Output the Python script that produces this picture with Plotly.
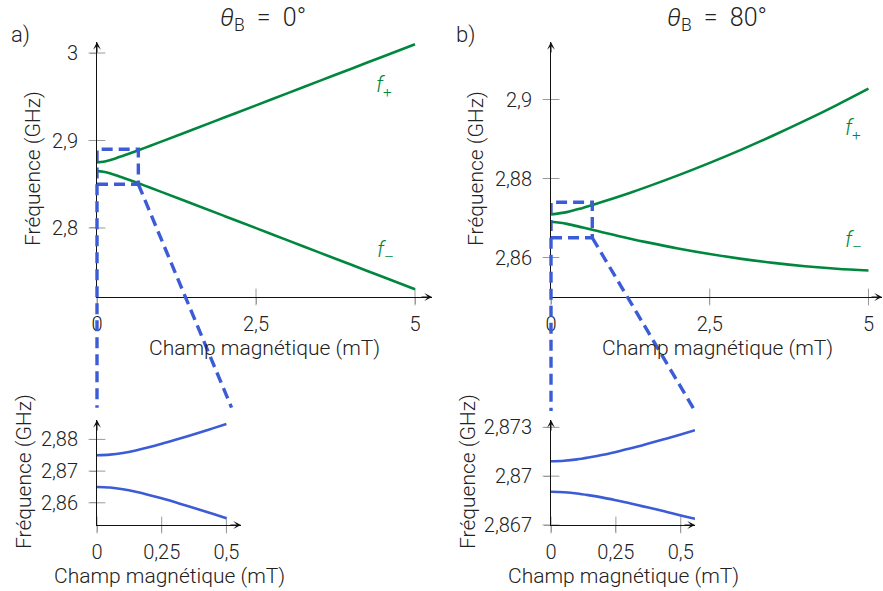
import plotly.graph_objects as go

# ---------------- data ----------------
# theta_B = 0 deg : full range
B_main_a = [0, 0.1, 0.2, 0.3, 0.4, 0.5, 0.75, 1, 1.5, 2, 2.5, 3, 3.5, 4, 4.5, 5]
fplus_main_a = [2.875, 2.87573, 2.87751, 2.87978, 2.88227, 2.88487, 2.89159, 2.89844,
                2.9123, 2.92622, 2.94018, 2.95415, 2.96813, 2.98211, 2.9961, 3.01009]
fminus_main_a = [2.865, 2.86427, 2.86249, 2.86022, 2.85773, 2.85513, 2.84841, 2.84156,
                 2.8277, 2.81378, 2.79982, 2.78585, 2.77187, 2.75789, 2.7439, 2.72991]

# theta_B = 0 deg : low-field detail
B_zoom_a = [0, 0.05, 0.1, 0.15, 0.2, 0.25, 0.3, 0.35, 0.4, 0.45, 0.5]
fplus_zoom_a = [2.875, 2.87519, 2.87573, 2.87653, 2.87751, 2.8786, 2.87978, 2.881,
                2.88227, 2.88356, 2.88487]
fminus_zoom_a = [2.865, 2.86481, 2.86427, 2.86347, 2.86249, 2.8614, 2.86022, 2.859,
                 2.85773, 2.85644, 2.85513]

# theta_B = 80 deg : full range
B_main_b = [0, 0.25, 0.5, 0.75, 1, 1.25, 1.5, 2, 2.5, 3, 3.5, 4, 4.5, 5]
fplus_main_b = [2.87092, 2.87149, 2.87256, 2.87378, 2.87507, 2.87642, 2.87782, 2.88079,
                2.88396, 2.88732, 2.89089, 2.89464, 2.8986, 2.90275]
fminus_main_b = [2.86904, 2.86852, 2.86759, 2.86662, 2.86568, 2.86476, 2.86389, 2.86229,
                 2.86088, 2.85966, 2.85863, 2.8578, 2.85716, 2.85671]

# theta_B = 80 deg : low-field detail
B_zoom_b = [0, 0.05, 0.1, 0.15, 0.2, 0.25, 0.3, 0.35, 0.4, 0.45, 0.5, 0.555]
fplus_zoom_b = [2.87092, 2.87095, 2.87103, 2.87116, 2.87131, 2.87149, 2.87168, 2.87189,
                2.87211, 2.87233, 2.87256, 2.87282]
fminus_zoom_b = [2.86904, 2.86901, 2.86894, 2.86882, 2.86868, 2.86852, 2.86835, 2.86816,
                 2.86798, 2.86779, 2.86759, 2.86738]

# tick values and labels (decimal comma)
main_xticks = [0, 2.5, 5]
main_xlabels = ["0", "2,5", "5"]
zoom_xticks = [0, 0.25, 0.5]
zoom_xlabels = ["0", "0,25", "0,5"]
main_a_yticks = [2.8, 2.9, 3.0]
main_a_ylabels = ["2,8", "2,9", "3"]
zoom_a_yticks = [2.86, 2.87, 2.88]
zoom_a_ylabels = ["2,86", "2,87", "2,88"]
main_b_yticks = [2.86, 2.88, 2.9]
main_b_ylabels = ["2,86", "2,88", "2,9"]
zoom_b_yticks = [2.867, 2.87, 2.873]
zoom_b_ylabels = ["2,867", "2,87", "2,873"]

# zoom windows (x0, x1, y0, y1) in the full-range axes, and where the
# connector lines meet the detail axes (x_right, y_top)
window_a = (0, 0.65, 2.85, 2.89)
window_b = (0, 0.65, 2.865, 2.874)
link_a = (0.52, 2.89)
link_b = (0.555, 2.874)

# ---------------- styling ----------------
W, H = 883, 591
GREEN = "#00873d"
BLUE = "#3b5cd6"
TEXT = "#222222"
TICK = "#9a9a9a"
FONT = "Roboto"
WEIGHT = 300

# panel boxes in pixels: (left, top, right, bottom), axis ranges
panels = {
    "main_a": dict(xa="x", ya="y", box=(97, 42, 432, 297),
                   xr=[0, 5.267], yr=[2.7211, 3.0126],
                   xt=(main_xticks, main_xlabels), yt=(main_a_yticks, main_a_ylabels)),
    "main_b": dict(xa="x2", ya="y2", box=(551, 42, 882, 297),
                   xr=[0, 5.213], yr=[2.85, 2.91456],
                   xt=(main_xticks, main_xlabels), yt=(main_b_yticks, main_b_ylabels)),
    "zoom_a": dict(xa="x3", ya="y3", box=(97, 420, 241, 525),
                   xr=[0, 0.5564], yr=[2.853, 2.88612],
                   xt=(zoom_xticks, zoom_xlabels), yt=(zoom_a_yticks, zoom_a_ylabels)),
    "zoom_b": dict(xa="x4", ya="y4", box=(551, 420, 695, 525),
                   xr=[0, 0.5549], yr=[2.867, 2.87345],
                   xt=(zoom_xticks, zoom_xlabels), yt=(zoom_b_yticks, zoom_b_ylabels)),
}


def paper(px, py):
    return px / W, 1 - py / H


def data_to_paper(p, x, y):
    l, t, r, b = p["box"]
    fx = (x - p["xr"][0]) / (p["xr"][1] - p["xr"][0])
    fy = (y - p["yr"][0]) / (p["yr"][1] - p["yr"][0])
    return paper(l + fx * (r - l), b - fy * (b - t))


def font(size, color=TEXT):
    return dict(family=FONT, size=size, color=color, weight=WEIGHT)


fig = go.Figure()

curves = [
    ("main_a", B_main_a, fplus_main_a, GREEN), ("main_a", B_main_a, fminus_main_a, GREEN),
    ("main_b", B_main_b, fplus_main_b, GREEN), ("main_b", B_main_b, fminus_main_b, GREEN),
    ("zoom_a", B_zoom_a, fplus_zoom_a, BLUE), ("zoom_a", B_zoom_a, fminus_zoom_a, BLUE),
    ("zoom_b", B_zoom_b, fplus_zoom_b, BLUE), ("zoom_b", B_zoom_b, fminus_zoom_b, BLUE),
]

# tick marks crossing the axis lines
for name, p in panels.items():
    xv = p["xt"][0]
    yv = p["yt"][0]
    fig.add_trace(go.Scatter(x=xv, y=[p["yr"][0]] * len(xv), mode="markers",
                             marker=dict(symbol="line-ns", size=12,
                                         line=dict(color=TICK, width=1)),
                             xaxis=p["xa"], yaxis=p["ya"], cliponaxis=False,
                             hoverinfo="skip", showlegend=False))
    fig.add_trace(go.Scatter(x=[p["xr"][0]] * len(yv), y=yv, mode="markers",
                             marker=dict(symbol="line-ew", size=12,
                                         line=dict(color=TICK, width=1)),
                             xaxis=p["xa"], yaxis=p["ya"], cliponaxis=False,
                             hoverinfo="skip", showlegend=False))

for name, xs, ys, col in curves:
    p = panels[name]
    fig.add_trace(go.Scatter(x=xs, y=ys, mode="lines", line=dict(color=col, width=2.6,
                                                                shape="spline"),
                             xaxis=p["xa"], yaxis=p["ya"], showlegend=False))

layout = dict(
    width=W, height=H, margin=dict(l=0, r=0, t=0, b=0, autoexpand=False),
    paper_bgcolor="white", plot_bgcolor="white", showlegend=False,
    font=font(20),
)

for name, p in panels.items():
    l, t, r, b = p["box"]
    xkey = "xaxis" + p["xa"][1:]
    ykey = "yaxis" + p["ya"][1:]
    common = dict(showline=True, linecolor="#111111", linewidth=1, showgrid=False,
                  zeroline=False, ticks="outside", ticklen=6, tickcolor=TICK,
                  tickfont=font(20), fixedrange=True, automargin=False)
    layout[xkey] = dict(common, domain=[l / W, r / W], range=p["xr"], anchor=p["ya"],
                        tickvals=p["xt"][0], ticktext=p["xt"][1], ticklabelstandoff=3)
    layout[ykey] = dict(common, domain=[1 - b / H, 1 - t / H], range=p["yr"], anchor=p["xa"],
                        tickvals=p["yt"][0], ticktext=p["yt"][1], ticklabelstandoff=8)

fig.update_layout(**layout)

annotations = []
# axis arrowheads
for name, p in panels.items():
    for (x, y, ax, ay) in [(p["xr"][1], p["yr"][0], -12, 0), (p["xr"][0], p["yr"][1], 0, 12)]:
        annotations.append(dict(x=x, y=y, xref=p["xa"], yref=p["ya"], ax=ax, ay=ay,
                                text="", showarrow=True, arrowhead=3, arrowsize=1.3,
                                arrowwidth=1, arrowcolor="#111111", standoff=0))


def label(px, py, text, size=21, angle=0, color=TEXT):
    x, y = paper(px, py)
    annotations.append(dict(x=x, y=y, xref="paper", yref="paper", text=text,
                            showarrow=False, textangle=angle, xanchor="center",
                            yanchor="middle", font=font(size, color)))


# axis titles
XT = "Champ magnétique (mT)"
YT = "Fréquence (GHz)"
label(264, 348, XT)
label(717, 348, XT)
label(169, 576, XT)
label(623, 576, XT)
label(33, 169, YT, angle=-90)
label(476, 169, YT, angle=-90)
label(24, 472, YT, angle=-90)
label(468, 472, YT, angle=-90)

# panel headings
label(263, 19, "<i>θ</i><sub>B</sub>&nbsp; = &nbsp;0°", size=25)
label(717, 19, "<i>θ</i><sub>B</sub>&nbsp; = &nbsp;80°", size=25)
label(20, 35, "a)", size=22)
label(465, 35, "b)", size=22)

# branch labels
label(384, 86, "<i>f</i><sub>+</sub>", size=22, color=GREEN)
label(385, 252, "<i>f</i><sub>–</sub>", size=22, color=GREEN)
label(853, 129, "<i>f</i><sub>+</sub>", size=22, color=GREEN)
label(853, 241, "<i>f</i><sub>–</sub>", size=22, color=GREEN)

fig.update_layout(annotations=annotations)

# zoom windows and connector lines
shapes = []
dash = dict(color=BLUE, width=3.4, dash="11px,6px")
for main, zoom, win, link in [("main_a", "zoom_a", window_a, link_a),
                              ("main_b", "zoom_b", window_b, link_b)]:
    pm, pz = panels[main], panels[zoom]
    shapes.append(dict(type="rect", xref=pm["xa"], yref=pm["ya"], x0=win[0], x1=win[1],
                       y0=win[2], y1=win[3], line=dash, layer="above"))
    for xm, xz in [(win[0], 0), (win[1], link[0])]:
        x0, y0 = data_to_paper(pm, xm, win[2])
        x1, y1 = data_to_paper(pz, xz, link[1])
        shapes.append(dict(type="line", xref="paper", yref="paper", x0=x0, y0=y0,
                           x1=x1, y1=y1, line=dash, layer="above"))
fig.update_layout(shapes=shapes)

fig.write_html("out.html")
